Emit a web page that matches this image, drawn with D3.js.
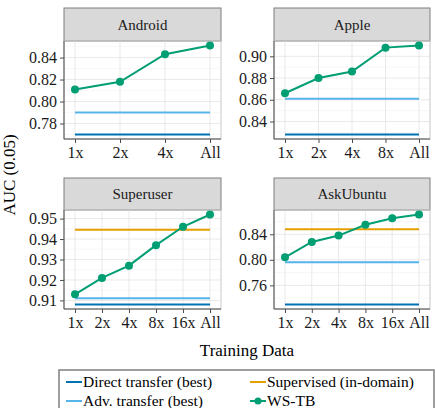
<!DOCTYPE html>
<html>
<head>
<meta charset="utf-8">
<script src="https://cdn.jsdelivr.net/npm/d3@7"></script>
<style>
  body { margin: 0; background: #fff; }
  svg, svg text { font-family: "Liberation Serif", "Times New Roman", "DejaVu Serif", serif !important; }
</style>
</head>
<body>
<svg id="chart" width="435" height="408"></svg>
<script>
// data
const panelNames = ["Android", "Apple", "Superuser", "AskUbuntu"];

const categoriesAndroid = ["1x", "2x", "4x", "All"];
const categoriesApple = ["1x", "2x", "4x", "8x", "All"];
const categoriesSuperuser = ["1x", "2x", "4x", "8x", "16x", "All"];
const categoriesAskUbuntu = ["1x", "2x", "4x", "8x", "16x", "All"];

const wsAndroid = [0.811, 0.818, 0.843, 0.851];
const wsApple = [0.866, 0.880, 0.886, 0.908, 0.910];
const wsSuperuser = [0.913, 0.921, 0.927, 0.937, 0.946, 0.952];
const wsAskUbuntu = [0.804, 0.828, 0.838, 0.855, 0.865, 0.871];

// one value per panel, same order as panelNames
const directTransfer = [0.770, 0.828, 0.908, 0.730];
const advTransfer = [0.790, 0.861, 0.911, 0.796];
const supervised = [null, null, 0.9445, 0.848];

const yTicksAndroid = [0.78, 0.80, 0.82, 0.84];
const yTicksApple = [0.84, 0.86, 0.88, 0.90];
const yTicksSuperuser = [0.91, 0.92, 0.93, 0.94, 0.95];
const yTicksAskUbuntu = [0.76, 0.80, 0.84];

const legendLabels = ["Direct transfer (best)", "Adv. transfer (best)", "Supervised (in-domain)", "WS-TB"];

const colors = {
  direct: "#0072B2",
  adv: "#56B4E9",
  sup: "#E69F00",
  ws: "#009E73"
};

const serif = "'Liberation Serif', 'Times New Roman', 'DejaVu Serif', serif";

const panels = [
  { name: panelNames[0], cats: categoriesAndroid, ws: wsAndroid, ticks: yTicksAndroid, x0: 64, x1: 221, top: 8, stripH: 33, bottom: 139 },
  { name: panelNames[1], cats: categoriesApple, ws: wsApple, ticks: yTicksApple, x0: 274, x1: 430, top: 8, stripH: 33, bottom: 139 },
  { name: panelNames[2], cats: categoriesSuperuser, ws: wsSuperuser, ticks: yTicksSuperuser, x0: 64, x1: 221, top: 178, stripH: 32, bottom: 309 },
  { name: panelNames[3], cats: categoriesAskUbuntu, ws: wsAskUbuntu, ticks: yTicksAskUbuntu, x0: 274, x1: 430, top: 178, stripH: 32, bottom: 309 }
];

const svg = d3.select("#chart").style("font-family", serif);

panels.forEach((p, i) => {
  const plotTop = p.top + p.stripH;
  const g = svg.append("g");

  const hvals = [directTransfer[i], advTransfer[i], supervised[i]].filter(v => v != null);
  const [lo, hi] = d3.extent(p.ws.concat(hvals));
  const pad = (hi - lo) * 0.05;

  const x = d3.scalePoint().domain(p.cats).range([p.x0 + 11, p.x1 - 11]);
  const y = d3.scaleLinear().domain([lo - pad, hi + pad]).range([p.bottom, plotTop]);

  // strip
  g.append("rect")
    .attr("x", p.x0).attr("y", p.top)
    .attr("width", p.x1 - p.x0).attr("height", p.stripH)
    .attr("fill", "#d9d9d9").attr("stroke", "#7f7f7f").attr("stroke-width", 1);
  g.append("text")
    .attr("x", (p.x0 + p.x1) / 2).attr("y", p.top + p.stripH / 2 + 5)
    .attr("text-anchor", "middle").attr("font-size", 15).attr("fill", "#1a1a1a")
    .style("font-family", serif)
    .text(p.name);

  // grid
  const step = p.ticks[1] - p.ticks[0];
  const minor = d3.range(p.ticks.length + 1)
    .map(k => p.ticks[0] - step / 2 + k * step)
    .filter(v => v > y.domain()[0] && v < y.domain()[1]);
  g.selectAll(".minor").data(minor).join("line")
    .attr("x1", p.x0).attr("x2", p.x1)
    .attr("y1", d => y(d)).attr("y2", d => y(d))
    .attr("stroke", "#f2f2f2").attr("stroke-width", 0.6);
  g.selectAll(".hmajor").data(p.ticks).join("line")
    .attr("x1", p.x0).attr("x2", p.x1)
    .attr("y1", d => y(d)).attr("y2", d => y(d))
    .attr("stroke", "#e6e6e6").attr("stroke-width", 0.9);
  g.selectAll(".vmajor").data(p.cats).join("line")
    .attr("x1", d => x(d)).attr("x2", d => x(d))
    .attr("y1", plotTop).attr("y2", p.bottom)
    .attr("stroke", "#e6e6e6").attr("stroke-width", 0.9);

  // panel border
  g.append("rect")
    .attr("x", p.x0).attr("y", plotTop)
    .attr("width", p.x1 - p.x0).attr("height", p.bottom - plotTop)
    .attr("fill", "none").attr("stroke", "#c8c8c8").attr("stroke-width", 1);

  // horizontal reference lines
  const first = p.cats[0], last = p.cats[p.cats.length - 1];
  const refs = [
    { v: directTransfer[i], c: colors.direct },
    { v: advTransfer[i], c: colors.adv },
    { v: supervised[i], c: colors.sup }
  ].filter(r => r.v != null);
  g.selectAll(".ref").data(refs).join("line")
    .attr("x1", x(first)).attr("x2", x(last))
    .attr("y1", d => y(d.v)).attr("y2", d => y(d.v))
    .attr("stroke", d => d.c).attr("stroke-width", 2);

  // WS-TB
  const pts = p.cats.map((c, k) => ({ c, v: p.ws[k] }));
  g.append("path").datum(pts)
    .attr("fill", "none").attr("stroke", colors.ws).attr("stroke-width", 2)
    .attr("d", d3.line().x(d => x(d.c)).y(d => y(d.v)));
  g.selectAll(".pt").data(pts).join("circle")
    .attr("cx", d => x(d.c)).attr("cy", d => y(d.v)).attr("r", 4)
    .attr("fill", colors.ws);

  // axes
  const yAxis = g.append("g").attr("transform", `translate(${p.x0},0)`)
    .call(d3.axisLeft(y).tickValues(p.ticks).tickFormat(d3.format(".2f")).tickSizeOuter(0).tickSize(4).tickPadding(3));
  const xAxis = g.append("g").attr("transform", `translate(0,${p.bottom})`)
    .call(d3.axisBottom(x).tickSizeOuter(0).tickSize(4).tickPadding(4));
  [yAxis, xAxis].forEach(a => {
    a.attr("font-family", null).style("font-family", serif);
    a.select(".domain").attr("stroke", "#4d4d4d").attr("stroke-width", 1);
    a.selectAll(".tick line").attr("stroke", "#4d4d4d");
    a.selectAll(".tick text").attr("font-size", 16).attr("fill", "#1a1a1a")
      .style("font-family", serif);
  });
  xAxis.select(".domain").attr("d", `M${p.x0},0H${p.x1}`);
  yAxis.select(".domain").attr("d", `M0,${plotTop}V${p.bottom}`);
});

// axis titles
svg.append("text")
  .attr("transform", "translate(15,175) rotate(-90)")
  .attr("text-anchor", "middle").attr("font-size", 17).attr("fill", "#000")
  .style("font-family", serif)
  .text("AUC (0.05)");
svg.append("text")
  .attr("x", 247).attr("y", 356)
  .attr("text-anchor", "middle").attr("font-size", 17).attr("fill", "#000")
  .style("font-family", serif)
  .text("Training Data");

// legend
const legend = svg.append("g");
legend.append("rect")
  .attr("x", 59).attr("y", 370).attr("width", 375).attr("height", 50)
  .attr("fill", "#fff").attr("stroke", "#7f7f7f").attr("stroke-width", 1.5);

const legendItems = [
  { label: legendLabels[0], c: colors.direct, x: 66, y: 382, pt: false },
  { label: legendLabels[1], c: colors.adv, x: 66, y: 401, pt: false },
  { label: legendLabels[2], c: colors.sup, x: 250, y: 382, pt: false },
  { label: legendLabels[3], c: colors.ws, x: 250, y: 401, pt: true }
];
legendItems.forEach(it => {
  legend.append("line")
    .attr("x1", it.x).attr("x2", it.x + 16)
    .attr("y1", it.y).attr("y2", it.y)
    .attr("stroke", it.c).attr("stroke-width", 2);
  if (it.pt) {
    legend.append("circle").attr("cx", it.x + 8).attr("cy", it.y).attr("r", 3.5).attr("fill", it.c);
  }
  legend.append("text")
    .attr("x", it.x + 17).attr("y", it.y + 5)
    .attr("font-size", 15.5).attr("fill", "#000")
    .style("font-family", serif)
    .text(it.label);
});
</script>
</body>
</html>
